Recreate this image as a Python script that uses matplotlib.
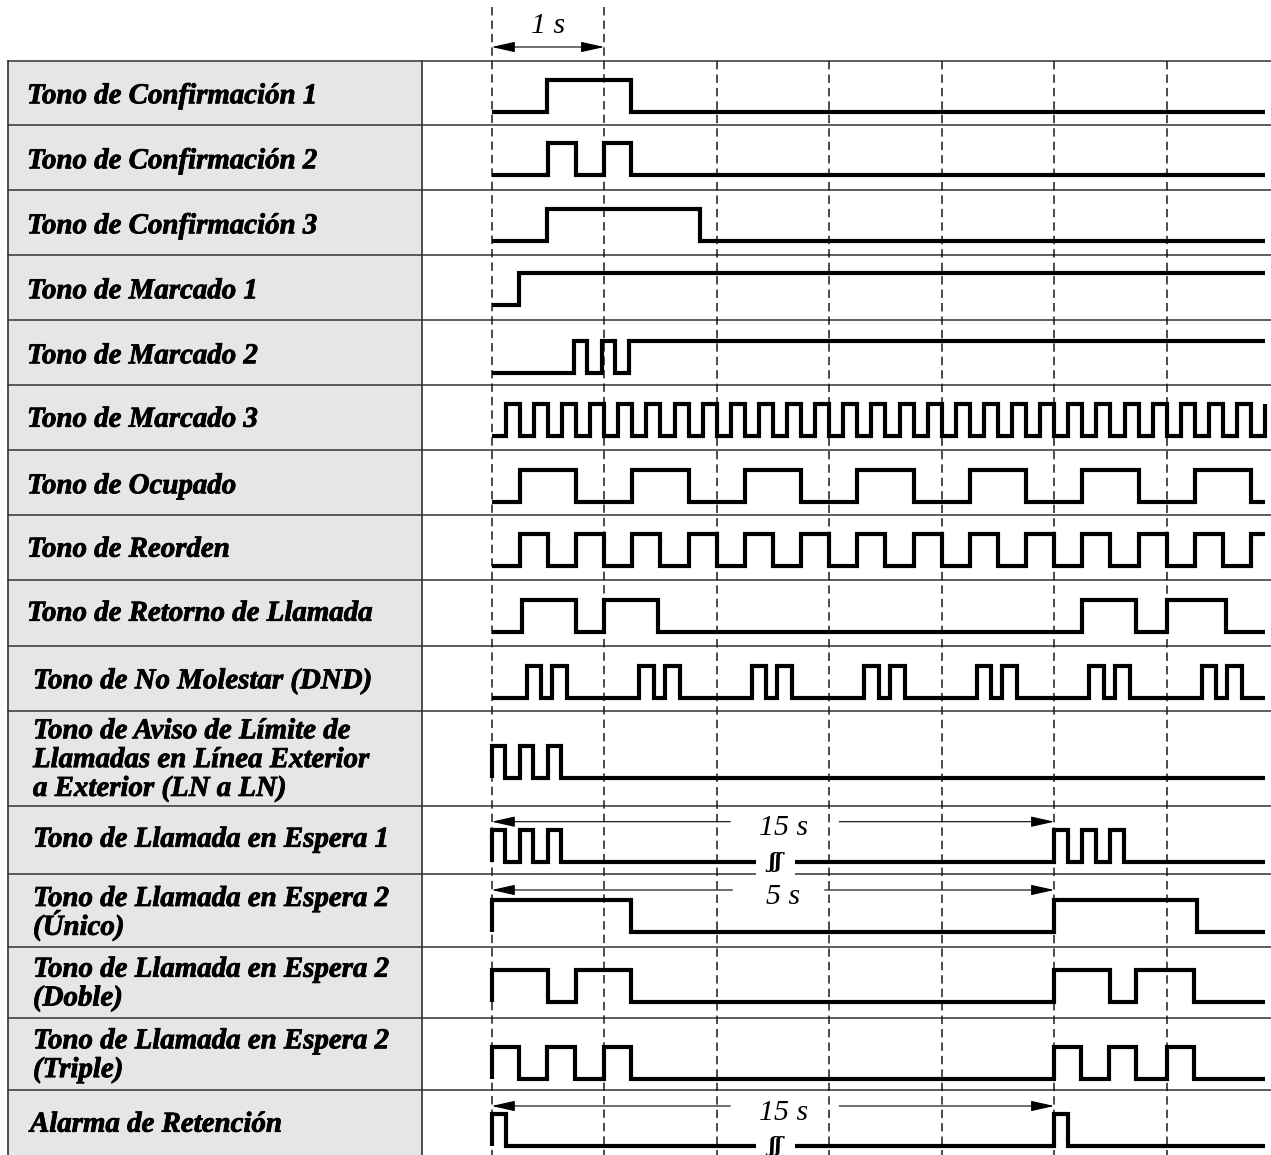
import matplotlib.pyplot as plt
from matplotlib import font_manager
import matplotlib.patheffects as pe
from matplotlib.patches import Rectangle

# row labels, top to bottom
labels = [
    "Tono de Confirmación 1",
    "Tono de Confirmación 2",
    "Tono de Confirmación 3",
    "Tono de Marcado 1",
    "Tono de Marcado 2",
    "Tono de Marcado 3",
    "Tono de Ocupado",
    "Tono de Reorden",
    "Tono de Retorno de Llamada",
    "Tono de No Molestar (DND)",
    "Tono de Aviso de Límite de\nLlamadas en Línea Exterior\na Exterior (LN a LN)",
    "Tono de Llamada en Espera 1",
    "Tono de Llamada en Espera 2\n(Único)",
    "Tono de Llamada en Espera 2\n(Doble)",
    "Tono de Llamada en Espera 2\n(Triple)",
    "Alarma de Retención",
]

# tone-on intervals (s)
conf1 = [(0.49, 1.24)]
conf2 = [(0.5, 0.75), (1.0, 1.24)]
conf3 = [(0.49, 1.85)]
marc1 = [(0.24, 7.0)]
marc2 = [(0.73, 0.85), (0.98, 1.10), (1.22, 7.0)]
marc3 = [(0.125, 0.25), (0.375, 0.5), (0.625, 0.75), (0.875, 1.0),
         (1.125, 1.25), (1.375, 1.5), (1.625, 1.75), (1.875, 2.0),
         (2.125, 2.25), (2.375, 2.5), (2.625, 2.75), (2.875, 3.0),
         (3.125, 3.25), (3.375, 3.5), (3.625, 3.75), (3.875, 4.0),
         (4.125, 4.25), (4.375, 4.5), (4.625, 4.75), (4.875, 5.0),
         (5.125, 5.25), (5.375, 5.5), (5.625, 5.75), (5.875, 6.0),
         (6.125, 6.25), (6.375, 6.5), (6.625, 6.75), (6.875, 7.0)]
ocupado = [(0.25, 0.75), (1.25, 1.75), (2.25, 2.75), (3.25, 3.75),
           (4.25, 4.75), (5.25, 5.75), (6.25, 6.75)]
reorden = [(0.25, 0.5), (0.75, 1.0), (1.25, 1.5), (1.75, 2.0), (2.25, 2.5),
           (2.75, 3.0), (3.25, 3.5), (3.75, 4.0), (4.25, 4.5), (4.75, 5.0),
           (5.25, 5.5), (5.75, 6.0), (6.25, 6.5), (6.75, 7.0)]
retorno = [(0.27, 0.75), (1.0, 1.48), (5.25, 5.73), (6.0, 6.53)]
dnd = [(0.31, 0.44), (0.54, 0.67), (1.31, 1.44), (1.54, 1.67),
       (2.31, 2.44), (2.54, 2.67), (3.31, 3.44), (3.54, 3.67),
       (4.31, 4.44), (4.54, 4.67), (5.31, 5.44), (5.54, 5.67),
       (6.31, 6.44), (6.54, 6.67)]
ln_ln = [(0, 0.12), (0.25, 0.37), (0.5, 0.62)]
espera1 = [(0, 0.12), (0.25, 0.37), (0.5, 0.62),
           (5.0, 5.12), (5.25, 5.37), (5.5, 5.62)]
espera2_unico = [(0, 1.24), (5.0, 6.27)]
espera2_doble = [(0, 0.5), (0.75, 1.24), (5.0, 5.5), (5.73, 6.24)]
espera2_triple = [(0, 0.24), (0.49, 0.74), (1.0, 1.24),
                  (5.0, 5.24), (5.49, 5.73), (6.0, 6.24)]
alarma = [(0, 0.125), (5.0, 5.125)]

waves = [conf1, conf2, conf3, marc1, marc2, marc3, ocupado, reorden,
         retorno, dnd, ln_ln, espera1, espera2_unico, espera2_doble,
         espera2_triple, alarma]

t_end = 6.875
grid_times = [0, 1, 2, 3, 4, 5, 6]

# long-period annotations (row index, label)
span_rows = [11, 12, 15]
span_labels = ["15 s", "5 s", "15 s"]
span_end = 5.0
break_rows = [11, 15]

# ---- layout (pixels) ----
W, H = 1271, 1155
X0, PPS = 491.7, 112.5          # pixel of t=0, pixels per second
def px(x):
    return (x - X0) / PPS

row_edges = [60.5, 125, 190, 255, 320, 385, 450, 515, 580, 646, 710.7,
             805.7, 874, 946.7, 1017.5, 1090, 1160]
wave_low = [111.7, 175, 240.7, 305, 372.7, 435.7, 501.7, 566, 631.7, 698.3,
            778.3, 861.7, 931.7, 1001.7, 1079, 1145.7]
AMP = 32
label_x = [27] * 9 + [33] * 6 + [30]
label_base = [103.3, 168.3, 233.3, 298.3, 363.3, 426.7, 493.3, 556.7, 620.7,
              688.3, 738.3, 846.7, 906, 976.7, 1048.3, 1131.7]
line_gap = 28.8
span_y = [821.7, 890, 1106]
span_gap = [(2.12, 3.09), (2.14, 2.96), (2.12, 3.09)]

# make sure we really get the bold italic face
bi_file = None
for f in font_manager.findSystemFonts():
    name = f.split('/')[-1]
    if name.startswith('LiberationSerif') and 'BoldItalic' in name:
        bi_file = f
        break
if bi_file:
    lab_prop = font_manager.FontProperties(fname=bi_file, size=20.8)
else:
    lab_prop = font_manager.FontProperties(family='Liberation Serif',
                                           weight='bold', style='italic',
                                           size=20.8)
ann_font = dict(family='Liberation Serif', style='italic', size=21.5)
heavier = [pe.withStroke(linewidth=0.6, foreground='black')]

fig = plt.figure(figsize=(W / 100, H / 100), dpi=100)
ax = fig.add_axes([0, 0, 1, 1])
ax.set_xlim(px(0), px(W))
ax.set_ylim(H, 0)
ax.axis('off')

# label column + table lines
ax.add_patch(Rectangle((px(8), row_edges[0]), px(422) - px(8),
                       H - row_edges[0], fc='#e6e6e6', ec='none', zorder=0))
for y in row_edges[:-1]:
    ax.plot([px(8), px(W)], [y, y], color='#333333', lw=1.1, zorder=1)
for x in (8, 422):
    ax.plot([px(x), px(x)], [row_edges[0], H], color='#333333', lw=1.2,
            zorder=1)

# dashed second markers
for t in grid_times:
    top = 7 if t in (0, 1) else row_edges[0]
    ax.plot([t, t], [top, H], color='#1a1a1a', lw=1.1,
            linestyle=(0, (5.5, 3.3)), zorder=2)


def step_path(intervals):
    xs, ys = [0.0], [0]
    for a, b in intervals:
        xs += [a, a]
        ys += [0, 1]
        if b >= t_end:
            xs.append(t_end)
            ys.append(1)
            return xs, ys
        xs += [b, b]
        ys += [1, 0]
    xs.append(t_end)
    ys.append(0)
    return xs, ys


for i, (lab, iv) in enumerate(zip(labels, waves)):
    xs, ys = step_path(iv)
    ax.plot(xs, [wave_low[i] - AMP * v for v in ys], color='black', lw=3.0,
            solid_joinstyle='miter', solid_capstyle='butt', zorder=3)
    for k, line in enumerate(lab.split('\n')):
        ax.text(px(label_x[i]), label_base[i] + k * line_gap, line,
                ha='left', va='baseline', zorder=4, fontproperties=lab_prop,
                path_effects=heavier)

# 1 s marker at the top
ax.annotate('', xy=(0, 47), xytext=(1, 47),
            arrowprops=dict(arrowstyle='<|-|>,head_length=0.8,head_width=0.18',
                            mutation_scale=18, lw=0.8, color='black',
                            shrinkA=0, shrinkB=0))
ax.text(0.5, 32.7, "1 s", ha='center', va='baseline', **ann_font)

# long spans
head = '-|>,head_length=0.8,head_width=0.18'
for r, lab, y, (g0, g1) in zip(span_rows, span_labels, span_y, span_gap):
    ax.annotate('', xy=(0, y), xytext=(g0, y),
                arrowprops=dict(arrowstyle=head, mutation_scale=18, lw=0.8,
                                color='black', shrinkA=0, shrinkB=0), zorder=4)
    ax.annotate('', xy=(span_end, y), xytext=(g1, y),
                arrowprops=dict(arrowstyle=head, mutation_scale=18, lw=0.8,
                                color='black', shrinkA=0, shrinkB=0), zorder=4)
    ax.text(2.59, y + 13.5, lab, ha='center', va='baseline', zorder=4,
            **ann_font)

for r in break_rows:
    ax.text(2.52, wave_low[r], "ʃʃ", ha='center', va='center', fontsize=15,
            family=['DejaVu Serif', 'DejaVu Sans'], style='italic',
            weight='bold', zorder=5,
            bbox=dict(fc='white', ec='none', boxstyle='square,pad=0.6'))

fig.savefig('out.png', dpi=100)
